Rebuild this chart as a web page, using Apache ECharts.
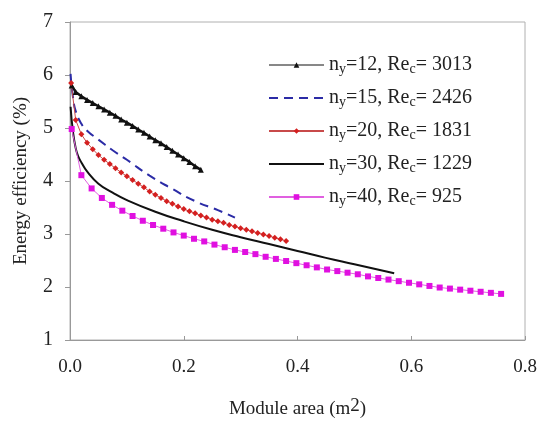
<!DOCTYPE html>
<html>
<head>
<meta charset="utf-8">
<script src="https://cdn.jsdelivr.net/npm/echarts@6/dist/echarts.min.js"></script>
<style>
body{margin:0;background:#fff;}
#main{width:540px;height:423px;}
</style>
</head>
<body>
<div id="main"></div>
<script>
// ny=12, Rec=3013 (三角)
var x12 = [0.003,0.01,0.02,0.03,0.04,0.05,0.06,0.07,0.08,0.09,0.10,0.11,0.12,0.13,0.14,0.15,0.16,0.17,0.18,0.19,0.20,0.21,0.22,0.23];
var y12 = [5.80,5.68,5.60,5.53,5.47,5.41,5.35,5.29,5.23,5.16,5.10,5.04,4.97,4.91,4.84,4.77,4.71,4.64,4.57,4.50,4.43,4.36,4.28,4.21];
// ny=15, Rec=2426 (虚线)
var x15 = [0.001,0.005,0.01,0.02,0.03,0.05,0.075,0.10,0.14,0.18,0.22,0.26,0.29];
var y15 = [6.02,5.60,5.32,5.08,4.95,4.78,4.58,4.40,4.10,3.85,3.62,3.45,3.31];
// ny=20, Rec=1831
var x20 = [0.002,0.01,0.02,0.03,0.04,0.05,0.06,0.07,0.08,0.09,0.10,0.11,0.12,0.13,0.14,0.15,0.16,0.17,0.18,0.19,
	0.20,0.21,0.22,0.23,0.24,0.25,0.26,0.27,0.28,0.29,0.30,0.31,0.32,0.33,0.34,0.35,0.36,0.37,0.38];
var y20 = [5.85,5.15,4.88,4.72,4.60,4.49,4.40,4.32,4.24,4.16,4.09,4.02,3.95,3.88,3.80,3.74,3.68,3.62,3.57,3.52,
	3.47,3.43,3.39,3.35,3.31,3.27,3.24,3.21,3.17,3.14,3.11,3.08,3.05,3.02,2.99,2.96,2.93,2.90,2.87];
// ny=30, Rec=1229 (粗实线)
var x30 = [0.001,0.005,0.01,0.015,0.02,0.03,0.05,0.075,0.10,0.15,0.20,0.25,0.30,0.35,0.40,0.45,0.50,0.57];
var y30 = [5.40,4.95,4.62,4.45,4.35,4.18,3.95,3.78,3.64,3.42,3.24,3.08,2.94,2.81,2.68,2.55,2.43,2.26];
// ny=40, Rec=925 (方点)
var x40 = [0.003,0.02,0.038,0.056,0.074,0.092,0.11,0.128,0.146,0.164,0.182,0.2,0.218,0.236,0.254,0.272,0.29,0.308,0.326,0.344,0.362,
	0.38,0.398,0.416,0.434,0.452,0.47,0.488,0.506,0.524,0.542,0.56,0.578,0.596,0.614,0.632,0.65,0.668,0.686,0.704,0.722,0.74,0.758];
var y40 = [4.98,4.11,3.86,3.68,3.55,3.44,3.34,3.25,3.17,3.10,3.03,2.97,2.91,2.86,2.80,2.75,2.70,2.66,2.62,2.57,2.53,
	2.49,2.45,2.41,2.37,2.33,2.30,2.27,2.24,2.20,2.17,2.14,2.11,2.08,2.05,2.02,1.99,1.97,1.95,1.93,1.91,1.89,1.87];

var names = ['n{sub|y}=12, Re{sub|c}= 3013','n{sub|y}=15, Re{sub|c}= 2426','n{sub|y}=20, Re{sub|c}= 1831',
	'n{sub|y}=30, Re{sub|c}= 1229','n{sub|y}=40, Re{sub|c}= 925'];
var xticks = [0, 0.2, 0.4, 0.6, 0.8];

var pair = function(xs, ys){
	var d = [];
	for(var i = 0; i < xs.length; i++) d.push([xs[i], ys[i]]);
	return d;
};

var hidden = {color: 'rgba(0,0,0,0)', borderColor: 'rgba(0,0,0,0)', borderWidth: 0};
var serif = 'Liberation Serif';
var chart = echarts.init(document.getElementById('main'));
chart.setOption({
	animation: false,
	grid: {left: 70, right: 15, top: 22, bottom: 83, containLabel: false, outerBoundsMode: 'none',
		show: true, borderColor: '#b0b0b0', borderWidth: 1},
	legend: {
		orient: 'vertical', left: 263, top: 49, itemWidth: 55, itemHeight: 7, itemGap: 11,
		data: [
			{name: names[0], lineStyle: {width: 1}},
			{name: names[1], itemStyle: hidden},
			{name: names[2]},
			{name: names[3], itemStyle: hidden},
			{name: names[4]}
		],
		textStyle: {
			fontFamily: serif, fontSize: 20, color: '#222', lineHeight: 22,
			rich: {sub: {fontFamily: serif, fontSize: 14, lineHeight: 14, verticalAlign: 'bottom', color: '#222'}}
		}
	},
	xAxis: {
		type: 'value', min: 0, max: 0.8, interval: 0.2,
		name: 'Module area (m{sup|2})', nameLocation: 'middle', nameGap: 57,
		nameTextStyle: {fontFamily: serif, fontSize: 19, color: '#222', lineHeight: 24,
			rich: {sup: {fontFamily: serif, fontSize: 19, lineHeight: 12, verticalAlign: 'top', color: '#222'}}},
		axisLine: {lineStyle: {color: '#999'}},
		axisTick: {inside: true, length: 4, lineStyle: {color: '#999'}},
		splitLine: {show: false},
		axisLabel: {fontFamily: serif, fontSize: 19, color: '#222', margin: 18,
			formatter: function(v){ return xticks.indexOf(v) >= 0 ? v.toFixed(1) : ''; }}
	},
	yAxis: {
		type: 'value', min: 1, max: 7, interval: 1,
		name: 'Energy efficiency (%)', nameLocation: 'middle', nameGap: 39, nameRotate: 90,
		nameTextStyle: {fontFamily: serif, fontSize: 19, color: '#222'},
		axisLine: {show: true, lineStyle: {color: '#999'}},
		axisTick: {show: true, length: 5, lineStyle: {color: '#999'}},
		splitLine: {show: false},
		axisLabel: {fontFamily: serif, fontSize: 20, color: '#222', margin: 17}
	},
	series: [
		{name: names[0], type: 'line', data: pair(x12, y12), symbol: 'triangle', symbolSize: 6,
			lineStyle: {color: '#111', width: 2.5}, itemStyle: {color: '#111'}},
		{name: names[1], type: 'line', data: pair(x15, y15), symbol: 'none', smooth: true,
			lineStyle: {color: '#2b2ba6', width: 2, type: [9, 6]}, itemStyle: {color: '#2b2ba6'}},
		{name: names[2], type: 'line', data: pair(x20, y20), symbol: 'diamond', symbolSize: 6,
			lineStyle: {color: '#c84a4a', width: 1}, itemStyle: {color: '#d42020'}},
		{name: names[3], type: 'line', data: pair(x30, y30), symbol: 'none', smooth: true,
			lineStyle: {color: '#111', width: 2}, itemStyle: {color: '#111'}},
		{name: names[4], type: 'line', data: pair(x40, y40), symbol: 'rect', symbolSize: 6,
			lineStyle: {color: '#e060e0', width: 1}, itemStyle: {color: '#e010e0'}}
	]
});
</script>
</body>
</html>
